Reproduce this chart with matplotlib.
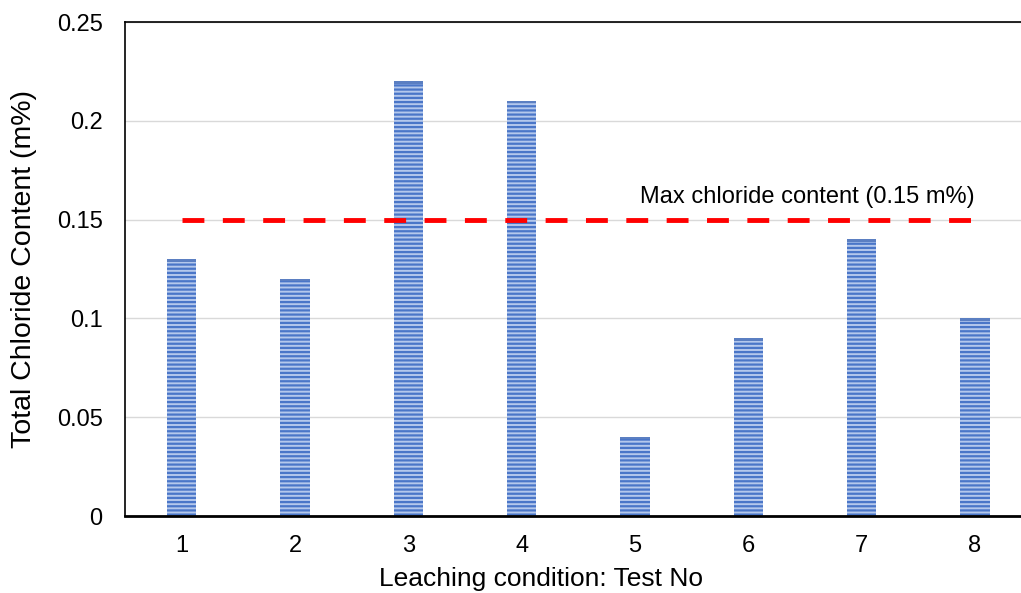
import matplotlib.pyplot as plt
import numpy as np

plt.rcParams["font.family"] = ["Liberation Sans", "DejaVu Sans"]
plt.rcParams["hatch.linewidth"] = 1.6

tests = ["1", "2", "3", "4", "5", "6", "7", "8"]
chloride = [0.13, 0.12, 0.22, 0.21, 0.04, 0.09, 0.14, 0.10]
max_chloride = 0.15
y_ticks = [0, 0.05, 0.1, 0.15, 0.2, 0.25]
y_tick_labels = ["0", "0.05", "0.1", "0.15", "0.2", "0.25"]


def main() -> None:
    fig = plt.figure(figsize=(10.21, 5.93), dpi=100)
    # axes runs past the right edge, like the original crop
    ax = fig.add_axes([0.1224, 0.1298, 0.888, 0.8331])

    x = np.arange(len(tests))
    ax.bar(
        x,
        chloride,
        width=0.26,
        color="#b4c8ec",
        edgecolor="#4a76c8",
        hatch="----",
        linewidth=0,
        zorder=2,
    )
    # darker cap at the top of each bar
    ax.bar(x, [0.0012] * len(tests), bottom=np.array(chloride) - 0.0012,
           width=0.26, color="#5b7fc2", linewidth=0, zorder=3)

    ax.plot(
        [x[0], x[-1]],
        [max_chloride, max_chloride],
        color="#ff0000",
        linewidth=3.5,
        dashes=(4.5, 3.8),
        zorder=4,
    )
    ax.text(x[-1], max_chloride + 0.006, "Max chloride content (0.15 m%)",
            ha="right", va="bottom", fontsize=17)

    ax.set_xlim(-0.5, len(tests) - 0.5)
    ax.set_ylim(0, 0.25)
    ax.set_xticks(x)
    ax.set_xticklabels(tests)
    ax.set_yticks(y_ticks)
    ax.set_yticklabels(y_tick_labels)
    ax.tick_params(axis="x", length=0, pad=14, labelsize=17)
    ax.tick_params(axis="y", length=0, pad=16, labelsize=17)

    ax.grid(axis="y", color="#d9d9d9", linewidth=1, zorder=0)
    ax.set_axisbelow(True)

    for side in ["left", "top"]:
        ax.spines[side].set_linewidth(1.2)
    ax.spines["bottom"].set_linewidth(2)
    ax.spines["right"].set_visible(False)

    ax.set_xlabel("Leaching condition: Test No", fontsize=19)
    ax.xaxis.set_label_coords(0.4587, -0.104)
    ax.set_ylabel("Total Chloride Content (m%)", fontsize=20.5)
    ax.yaxis.set_label_coords(-0.097, 0.5)

    fig.savefig("out.png", dpi=100)


if __name__ == "__main__":
    main()
